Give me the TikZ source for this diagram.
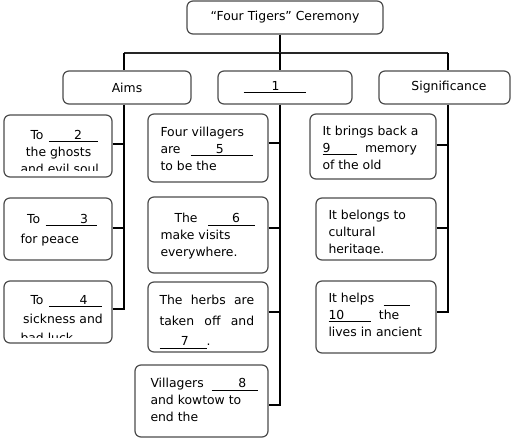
\documentclass[tikz,border=0pt]{standalone}
\usepackage{fontspec}
\setmainfont{DejaVu Sans}
\usetikzlibrary{calc}

% a blank to fill in: space before, number, space after
\newcommand{\gapline}[3]{\underline{\hspace*{#1}#2\hspace*{#3}}}

\tikzset{every picture/.style={line width=0.75pt}}
\tikzset{
  box/.style={draw=black!70, fill=white, rounded corners=4.5pt, line width=0.9pt, inner sep=0pt},
  head/.style={box, minimum height=24.75pt, font=\fontsize{9.3}{12.75}\selectfont},
  txt/.style={font=\fontsize{9.3}{12.6}\selectfont, align=left, inner sep=0pt, anchor=north west},
  link/.style={line width=1.5pt, black},
}

\begin{document}
\begin{tikzpicture}[x=0.75pt,y=0.75pt,yscale=-1,xscale=1]
	\useasboundingbox (0,0) rectangle (511,438);

	%Heading boxes
	\node[head, minimum width=147pt] (tiger) at (285,17.5) {“Four Tigers” Ceremony};
	\node[head, minimum width=96pt] (aims) at (127,87.5) {Aims};
	\node[head, minimum width=100.5pt] (what) at (285,87.5) {\gapline{21pt}{1}{20pt}\hspace*{15pt}};
	\node[head, minimum width=98.25pt] (signif) at (444.5,87.5) {\hspace*{6.75pt}Significance};

	%Aims boxes
	\node[box, minimum width=81pt, minimum height=46.5pt] (l1) at (58,146) {};
	\node[box, minimum width=81pt, minimum height=46.5pt] (l2) at (58,229) {};
	\node[box, minimum width=81pt, minimum height=46.5pt] (l3) at (58,312) {};
	%Middle boxes
	\node[box, minimum width=90pt, minimum height=51pt] (m1) at (208,148) {};
	\node[box, minimum width=90pt, minimum height=57pt] (m2) at (208,235) {};
	\node[box, minimum width=90pt, minimum height=52.5pt] (m3) at (208,317) {};
	\node[box, minimum width=99.75pt, minimum height=54pt] (m4) at (201.5,401) {};
	%Significance boxes
	\node[box, minimum width=94.5pt, minimum height=48.75pt] (r1) at (373,146.5) {};
	\node[box, minimum width=90pt, minimum height=46.5pt] (r2) at (376,229) {};
	\node[box, minimum width=90pt, minimum height=54pt] (r3) at (376,317) {};

	% Text Node
	\begin{scope}
		\clip[rounded corners=4.5pt] ($(l1.south west)+(0,-7)$) rectangle (l1.north east);
		\node[txt] (l1t) at (20,130) {\hspace*{7.5pt}To\hspace{4pt}\gapline{19pt}{2}{12pt}\\ \hspace*{4pt}the ghosts\\ and evil soul};
	\end{scope}
	% Text Node
	\node[txt] (l2t) at (20,214) {\hspace*{5pt}To\hspace{4pt}\gapline{26pt}{3}{7pt}\\[2.5pt] for peace};
	% Text Node
	\begin{scope}
		\clip[rounded corners=4.5pt] ($(l3.south west)+(0,-6)$) rectangle (l3.north east);
		\node[txt] (l3t) at (20,295) {\hspace*{7.5pt}To\hspace{4pt}\gapline{23pt}{4}{11pt}\\[1.5pt] \hspace*{2pt}sickness and\\[1.5pt] bad luck};
	\end{scope}
	% Text Node
	\node[txt] (m1t) at (160,127) {Four villagers\\ are\hspace{7.5pt}\gapline{19pt}{5}{22pt}\\ to be the};
	% Text Node
	\node[txt] (m2t) at (160,213) {\hspace*{10.5pt}The\hspace{8pt}\gapline{18pt}{6}{11pt}\\ make visits\\ everywhere.};
	% Text Node
	\node[txt] (m3t) at (159,295) {\makebox[71pt][s]{The herbs are}\\[2.8pt] \makebox[71pt][s]{taken off and}\\[2.8pt] \gapline{16pt}{7}{13.5pt}.};
	% Text Node
	\node[txt] (m4t) at (150,378) {Villagers\hspace{6pt}\gapline{20pt}{8}{9pt}\\ and kowtow to\\ end the};
	% Text Node
	\node[txt] (r1t) at (322,126) {It brings back a\\ \gapline{0pt}{9}{20pt}\hspace{6pt}memory\\ of the old};
	% Text Node
	\begin{scope}
		\clip[rounded corners=4.5pt] ($(r2.south west)+(0,-7)$) rectangle (r2.north east);
		\node[txt] (r2t) at (328,210) {It belongs to\\ cultural\\ heritage.};
	\end{scope}
	% Text Node
	\node[txt] (r3t) at (328,293) {It helps\hspace{7pt}\gapline{20pt}{}{0pt}\\ \gapline{0pt}{10}{20pt}\hspace{6pt}the\\ lives in ancient};

	%Connectors
	\coordinate (hub) at (280,53);
	\coordinate (hubL) at (124,53);
	\coordinate (hubR) at (448,53);
	\draw[link] (tiger.south -| hub) -- (hub);
	\draw[link, black!85] (hubL) -- (hubR);
	\draw[link] (hubL) -- (hubL |- aims.north);
	\draw[link] (hub) -- (hub |- what.north);
	\draw[link] (hubR) -- (hubR |- signif.north);
	%Aims trunk
	\draw[link] (hubL |- aims.south) |- ($(l3.east)+(0,-3)$);
	\draw[link] ($(l1.east)+(0,-2)$) coordinate (a1) -- (a1 -| hubL);
	\draw[link] ($(l2.east)+(0,-1)$) coordinate (a2) -- (a2 -| hubL);
	%Middle trunk
	\draw[link] (hub |- what.south) |- ($(m4.east)+(0,4)$);
	\draw[link] ($(m1.east)+(0,-5)$) coordinate (b1) -- (b1 -| hub);
	\draw[link] ($(m2.east)+(0,-7)$) coordinate (b2) -- (b2 -| hub);
	\draw[link] ($(m3.east)+(0,-5)$) coordinate (b3) -- (b3 -| hub);
	%Significance trunk
	\draw[link] (hubR |- signif.south) |- ($(r3.east)+(0,-5)$);
	\draw[link] ($(r1.east)+(0,-1.5)$) coordinate (c1) -- (c1 -| hubR);
	\draw[link] ($(r2.east)+(0,-1)$) coordinate (c2) -- (c2 -| hubR);

\end{tikzpicture}
\end{document}
